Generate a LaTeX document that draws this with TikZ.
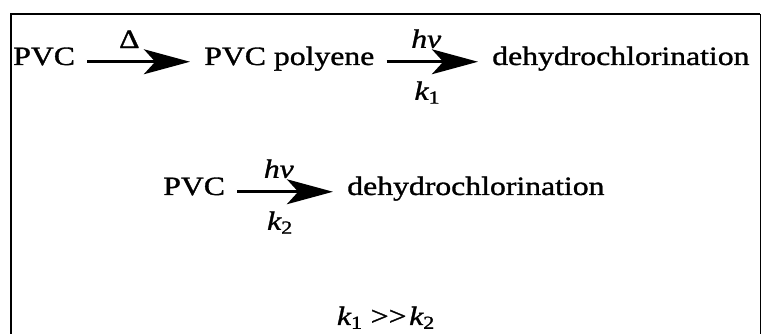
\documentclass[tikz,border=0pt]{standalone}
\usepackage{fontspec}
\setmainfont{Liberation Serif}[FakeStretch=1.2, FakeBold=1.2]
\usetikzlibrary{arrows.meta}

\newcommand{\rxnfont}{\fontsize{18.8}{22}\selectfont}

\begin{document}
\begin{tikzpicture}[>={Stealth[length=1.15cm,width=0.62cm,inset=0.28cm]},
    species/.style={font=\rxnfont, inner sep=0pt, anchor=base west,
                    text height=0.68em, text depth=0.22em},
    rxn/.style={->, line width=2.4pt, shorten <=0.3cm, shorten >=0.35cm},
    over/.style={font=\rxnfont, inner sep=0pt, anchor=south, yshift=0.3cm},
    under/.style={font=\rxnfont, inner sep=0pt, anchor=north, yshift=-0.45cm}]

    \useasboundingbox (0,0) rectangle (19.05,8.35);

    % Frame, open at the bottom of the page
    \draw[line width=1.6pt] (0.275,-0.5) -- (0.275,8.0) -- (19.0,8.0);
    \draw[line width=0.5pt] (19.0,8.0) -- (19.0,-0.5);

    % Thermal step, then photolysis of the polyene
    \node[species] (pvcA) at (0.325,6.725) {PVC};
    \node[species] (poly) at (5.1,6.725) {PVC polyene};
    \node[species] (dhA)  at (12.3,6.725) {dehydrochlorination};
    \draw[rxn] (pvcA) -- node[over, pos=0.42] {Δ} (poly);
    \draw[rxn] (poly) -- node[over, pos=0.44] {\itshape hν}
                         node[under, pos=0.45] {\itshape k\textsubscript{\upshape 1}} (dhA);

    % Direct photolysis of PVC
    \node[species] (pvcB) at (4.075,3.475) {PVC};
    \node[species] (dhB)  at (8.675,3.475) {dehydrochlorination};
    \draw[rxn] (pvcB) -- node[over, pos=0.44] {\itshape hν}
                         node[under, pos=0.45] {\itshape k\textsubscript{\upshape 2}} (dhB);

    % Rate constants compared
    \node[font=\rxnfont, inner sep=0pt, anchor=base] (ratio) at (9.65,0.225)
        {\itshape k\textsubscript{\upshape 1} \upshape>\kern0pt>\hspace{0.1em}\itshape k\textsubscript{\upshape 2}};

\end{tikzpicture}
\end{document}
